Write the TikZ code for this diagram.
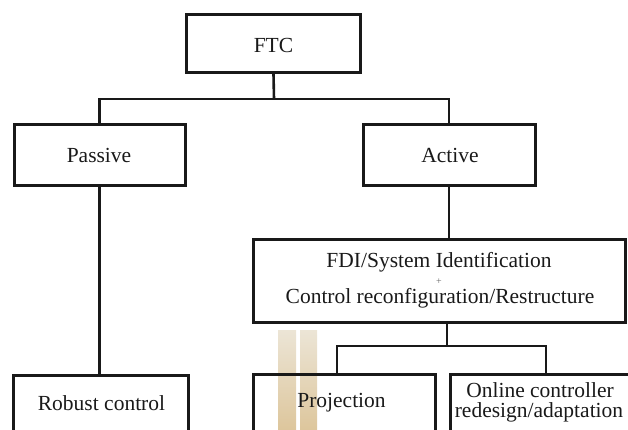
\documentclass[tikz,border=0pt]{standalone}
\usepackage{fontspec}
\setmainfont{Liberation Serif}
\definecolor{barlight}{RGB}{236,229,214}
\definecolor{bardark}{RGB}{221,198,156}
\definecolor{ink}{RGB}{25,25,25}
\begin{document}
\begin{tikzpicture}[x=1pt,y=-1pt,
  box/.style={draw=ink, line width=3pt, inner sep=0pt},
  link/.style={draw=ink, line width=2.6pt},
  lbl/.style={font=\fontsize{21.5}{25}\selectfont, text=ink, inner sep=0pt, anchor=base},
  stripe/.style={top color=barlight, bottom color=bardark, draw=none}]
\useasboundingbox (0,0) rectangle (628,430);
\begin{scope}
\clip (0,0) rectangle (628,430);
% light stripes behind the lower boxes
\fill[stripe] (278,330) rectangle (296,430);
\fill[stripe] (300,330) rectangle (317,430);

% boxes
\node[box, minimum width=174, minimum height=58] (ftc) at (273.5,43.5) {};
\node[box, minimum width=171, minimum height=61] (pas) at (99.5,155) {};
\node[box, minimum width=172, minimum height=61] (act) at (449,155) {};
\node[box, minimum width=372, minimum height=83] (fdi) at (439.5,281) {};
\node[box, minimum width=175, minimum height=90, anchor=north] (rob) at (101,373.5) {};
\node[box, minimum width=182, minimum height=90, anchor=north] (proj) at (344.5,372.5) {};
\node[box, minimum width=250, minimum height=90, anchor=north] (onl) at (575.5,372.5) {};

% connectors
\coordinate (j1) at (274,99);
\draw[link] (ftc.south) -- (j1);
\draw[link] (pas.north) |- (j1) -| (act.north);
\draw[link] (pas.south) -- (pas.south |- rob.north);
\draw[link] (act.south) -- (act.south |- fdi.north);
\coordinate (j2) at (447,346);
\coordinate (pl) at (337,346);
\coordinate (pr) at (546,346);
\draw[link] (j2 |- fdi.south) -- (j2);
\draw[link] (pl |- proj.north) |- (pr) -- (pr |- onl.north);

% labels
\node[lbl] (tftc) at (273.5,53) {FTC};
\node[lbl] (tpas) at (99,163) {Passive};
\node[lbl] (tact) at (450,163) {Active};
\node[lbl] (tfdi1) at (439,267) {FDI/System Identification};
\node[lbl, font=\fontsize{10}{12}\selectfont, text=black!60] (tplus) at (439,284.5) {+};
\node[lbl] (tfdi2) at (440,303) {Control reconfiguration/Restructure};
\node[lbl] (trob) at (101.5,410) {Robust control};
\node[lbl] (tproj) at (341.5,407) {Projection};
\node[lbl] (tonl1) at (540,397) {Online controller};
\node[lbl] (tonl2) at (539,417) {redesign/adaptation};
\end{scope}
\end{tikzpicture}
\end{document}
